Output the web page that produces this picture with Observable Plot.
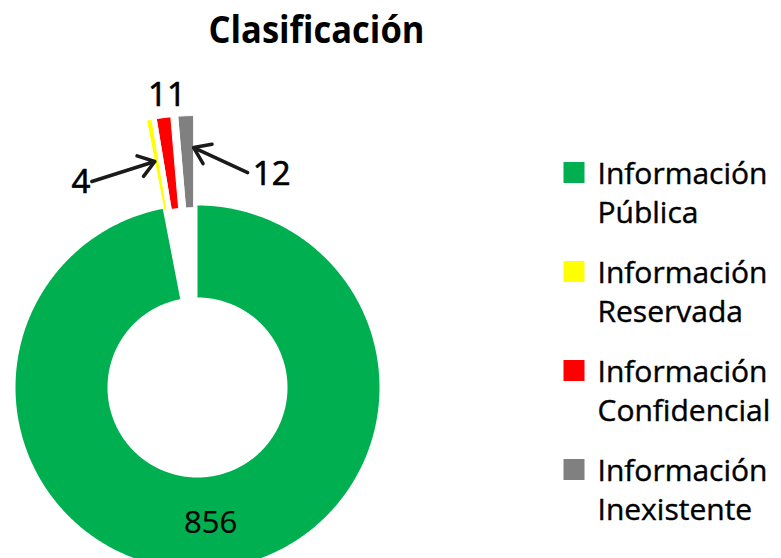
<!DOCTYPE html>
<html><head><meta charset="utf-8">
<script src="https://cdn.jsdelivr.net/npm/d3@7"></script>
<script src="https://cdn.jsdelivr.net/npm/@observablehq/plot@0.6"></script>
<style>
html,body{margin:0;padding:0;background:#fff;}
#chart{width:781px;height:558px;overflow:hidden;}
svg{display:block;}
</style></head><body><div id="chart"></div>
<script>
// ---- data ----
const title = "Clasificación";
const categories = ["Información Pública", "Información Reservada", "Información Confidencial", "Información Inexistente"];
const values = [856, 4, 11, 12];
const legendFirst = ["Información", "Información", "Información", "Información"];
const legendSecond = ["Pública", "Reservada", "Confidencial", "Inexistente"];
const colors = ["#00B050", "#FFFF00", "#FF0000", "#808080"];

// ---- layout (pixels) ----
const W = 781, H = 558, CX = 197, CY = 387, R_OUT = 182, R_IN = 90, EXPLODE = 90;
const explodedSlices = [false, true, true, true];
const FONT = "'Open Sans', 'Noto Sans', sans-serif";

const pie = d3.pie().sort(null).value(d => d)(values);
const deg = Math.PI / 180;
function pt(a, rho, m, e) {
  return {x: rho * Math.sin(a) + e * Math.sin(m), y: rho * Math.cos(a) + e * Math.cos(m)};
}
const slices = pie.map((p, i) => {
  const m = (p.startAngle + p.endAngle) / 2;
  const e = explodedSlices[i] ? EXPLODE : 0;
  const n = Math.max(4, Math.ceil((p.endAngle - p.startAngle) / (0.5 * deg)));
  const pts = [];
  for (let k = 0; k <= n; k++) {
    const a = p.startAngle + (p.endAngle - p.startAngle) * k / n;
    pts.push({...pt(a, R_OUT, m, e), i});
  }
  for (let k = n; k >= 0; k--) {
    const a = p.startAngle + (p.endAngle - p.startAngle) * k / n;
    pts.push({...pt(a, R_IN, m, e), i});
  }
  return {i, m, e, pts, start: p.startAngle, end: p.endAngle, value: p.value};
});

// value labels
const labels = [];
const arrows = [];
slices.forEach(s => {
  const text = String(s.value);
  if (s.i === 0) {
    const c = pt(s.m, (R_OUT + R_IN) / 2, s.m, s.e);
    labels.push({...c, text, size: 31, sw: 0.2});
  } else if (s.i === 2) {
    const c = pt(s.m, R_OUT + 22, s.m, s.e);
    labels.push({x: c.x + 6, y: c.y, text, size: 33, sw: 0.7});
  } else if (s.i === 1) {
    const head = pt(s.start, 140, s.m, s.e);
    const lab = {x: head.x - 74, y: head.y - 21};
    labels.push({...lab, text, size: 33, sw: 0.7});
    arrows.push({x1: lab.x + 11, y1: lab.y + 1, x2: head.x, y2: head.y});
  } else {
    const head = pt(s.end, 150, s.m, s.e);
    const lab = {x: head.x + 78, y: head.y - 27};
    labels.push({...lab, text, size: 33, sw: 0.7});
    arrows.push({x1: lab.x - 24, y1: lab.y + 2, x2: head.x, y2: head.y});
  }
});

// legend
const LEG_SQ_X = 573.5, LEG_TX = 597, LEG_BASE0 = 183, LEG_STEP = 99, LEG_LINE = 39;
const legend = categories.map((c, i) => ({
  sx: LEG_SQ_X - CX,
  sy: CY - (LEG_BASE0 + i * LEG_STEP - 11),
  tx: LEG_TX - CX,
  ty: CY - (LEG_BASE0 + i * LEG_STEP + LEG_LINE),
  text: legendFirst[i] + "\n" + legendSecond[i],
  color: colors[i]
}));

const marks = [
  ...slices.map(s => Plot.line(s.pts, {
    x: "x", y: "y", curve: "linear-closed",
    fill: colors[s.i], stroke: "white", strokeWidth: s.i === 0 ? 0 : 1
  })),
  Plot.arrow(arrows, {x1: "x1", y1: "y1", x2: "x2", y2: "y2", stroke: "#1a1a1a", strokeWidth: 3.5, headLength: 8, headAngle: 70}),
  ...labels.map(l => Plot.text([l], {x: "x", y: "y", text: "text", fontSize: l.size, fill: "#000", stroke: "#000", strokeWidth: l.sw, fontFamily: FONT, textAnchor: "middle", lineAnchor: "middle"})),
  Plot.text([title], {frameAnchor: "top", dx: 316 - W / 2, dy: 42, fontSize: 37, fontWeight: "bold", fill: "#000", fontFamily: FONT, lineAnchor: "bottom"}),
  Plot.dot(legend, {x: "sx", y: "sy", symbol: "square", r: 11.85, fill: "color", stroke: null}),
  Plot.text(legend, {x: "tx", y: "ty", text: "text", textAnchor: "start", lineAnchor: "bottom", lineHeight: LEG_LINE / 30, fontSize: 30, fill: "#000", stroke: "#000", strokeWidth: 0.4, fontFamily: FONT})
];

const chart = Plot.plot({
  width: W, height: H,
  margin: 0, marginTop: 0, marginRight: 0, marginBottom: 0, marginLeft: 0,
  x: {domain: [-CX, W - CX], axis: null},
  y: {domain: [CY - H, CY], axis: null},
  color: {type: "identity"},
  style: {fontFamily: FONT, background: "#fff", overflow: "visible"},
  marks
});
document.getElementById("chart").appendChild(chart);
d3.select(chart).selectAll("text").filter(function() { return this.textContent === title; })
  .attr("textLength", 216).attr("lengthAdjust", "spacingAndGlyphs");
</script></body></html>
